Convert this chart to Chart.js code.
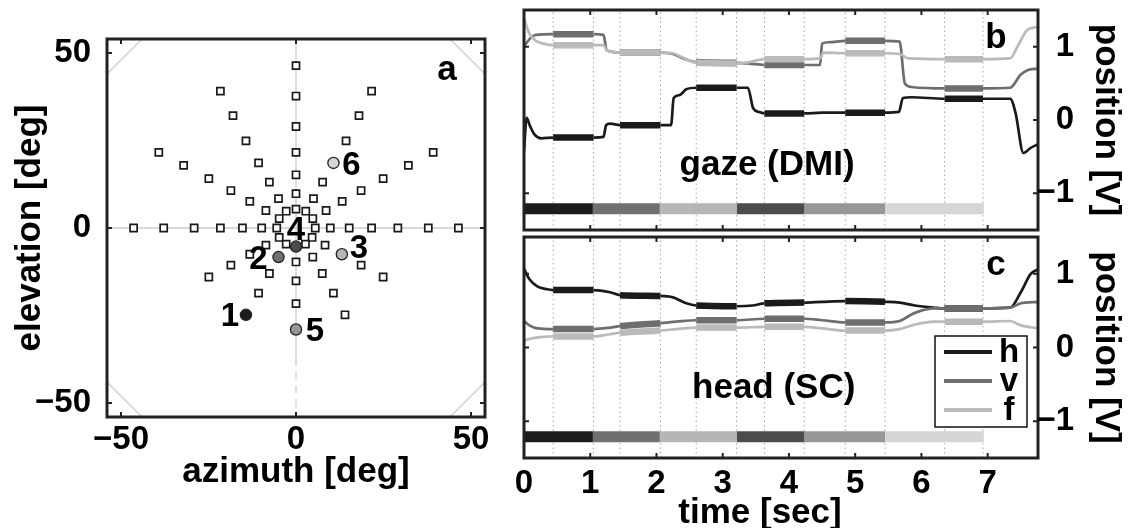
<!DOCTYPE html>
<html lang="en">
<head>
<meta charset="UTF-8" />
<title>Targets, gaze and head traces</title>
<script src="https://cdn.jsdelivr.net/npm/chart.js"></script>
<style>
  html, body { margin: 0; padding: 0; background: #fff; overflow: hidden; }
  body { width: 1137px; height: 528px; position: relative; }
  canvas { position: absolute; }
  #targets { left: 0; top: 0; }
  #gaze { left: 500px; top: 0; }
  #head { left: 500px; top: 233px; }
</style>
</head>
<body>
<canvas id="targets" width="500" height="528"></canvas>
<canvas id="gaze" width="637" height="233"></canvas>
<canvas id="head" width="637" height="300"></canvas>
<script>
// ---------- panel a: target grid (deg) ----------
const targetAz = [
  0, 0, 0, 0, 0, 0, 0,
  -5.5, -9.8, -15.3, -21.6, -29.1, -37.8, -46.4,
  5.5, 9.8, 15.2, 21.6, 29.1, 37.8, 46.4,
  0, 0, 0,
  -2.8, -5.0, -7.6, -10.7, -14.3, -18.0, -21.6,
  2.8, 5.0, 7.6, 14.3, 18.0, 21.6,
  4.8, 8.6, 13.2, 18.6, 24.9, 32.1, 39.2,
  -4.8, -8.6, -13.2, -18.6, -24.9, -32.1, -39.2,
  -4.8, -8.6, -13.2, -18.6, -24.9,
  4.6, 8.3, 18.6, 24.9,
  -2.8, -7.6, -10.7,
  2.7, 4.8, 7.5, 10.7, 14.0
];
const targetEl = [
  5.4, 9.8, 15.2, 21.6, 29.0, 37.7, 46.4,
  0, 0, 0, 0, 0, 0, 0,
  0, 0, 0, 0, 0, 0, 0,
  -9.7, -15.1, -21.6,
  4.8, 8.4, 13.1, 18.6, 24.9, 32.1, 39.1,
  4.8, 8.4, 13.1, 24.9, 32.1, 39.1,
  2.7, 5.0, 7.6, 10.7, 14.1, 17.9, 21.6,
  2.7, 5.0, 7.6, 10.7, 14.1, 17.9, 21.6,
  -2.7, -4.9, -7.5, -10.6, -14.0,
  -2.7, -4.9, -10.6, -14.0,
  -4.6, -13.0, -18.6,
  -4.6, -8.3, -13.0, -18.6, -24.8
];
const fixAz = [-14.3, -5.0, 13.1, 0, 0, 10.7];
const fixEl = [-24.8, -8.3, -7.5, -5.3, -29.0, 18.6];
const fixLabels = ['1', '2', '3', '4', '5', '6'];
const fixColors = ['#1c1c1c', '#707070', '#b6b6b6', '#4c4c4c', '#979797', '#d6d6d6'];
const degTicks = [-50, 0, 50];
const degLim = 54;
const cornerCut = 44;

// ---------- panels b, c: traces (time in s, position in V) ----------
const timeTicks = [0, 1, 2, 3, 4, 5, 6, 7];
const voltTicks = [-1, 0, 1];
const segStart = [0, 1.04, 2.05, 3.21, 4.23, 5.45];
const segEnd = [1.04, 2.05, 3.21, 4.23, 5.45, 6.94];
const winStart = [0.44, 1.45, 2.60, 3.63, 4.85, 6.35];
const winEnd = [1.05, 2.06, 3.21, 4.23, 5.45, 6.93];

const gazeH = [[0,-0.42],[0.04,0.03],[0.09,-0.08],[0.16,-0.2],[0.26,-0.25],[0.44,-0.24],[1.05,-0.24],[1.2,-0.23],[1.24,-0.07],[1.3,-0.05],[1.45,-0.07],[2.06,-0.07],[2.22,-0.07],[2.26,0.3],[2.35,0.34],[2.45,0.42],[2.6,0.44],[3.21,0.44],[3.38,0.44],[3.46,0.16],[3.55,0.11],[3.63,0.09],[4.23,0.09],[4.5,0.1],[4.85,0.1],[5.45,0.1],[5.66,0.11],[5.72,0.3],[5.85,0.31],[6.35,0.29],[6.93,0.29],[7.34,0.29],[7.42,0.1],[7.54,-0.45],[7.65,-0.38],[7.76,-0.33]];
const gazeV = [[0,1.0],[0.08,1.1],[0.18,1.16],[0.44,1.17],[1.05,1.17],[1.2,1.16],[1.25,0.95],[1.45,0.92],[2.06,0.92],[2.25,0.9],[2.4,0.84],[2.6,0.79],[3.21,0.78],[3.4,0.77],[3.63,0.75],[4.23,0.75],[4.47,0.75],[4.5,1.04],[4.6,1.06],[4.85,1.08],[5.45,1.08],[5.67,1.07],[5.75,0.5],[5.85,0.45],[6.35,0.43],[6.93,0.43],[7.34,0.44],[7.5,0.62],[7.6,0.68],[7.76,0.7]];
const gazeF = [[0,1.38],[0.08,1.18],[0.18,1.08],[0.3,1.04],[0.44,1.02],[1.05,1.02],[1.2,1.02],[1.25,0.95],[1.45,0.92],[2.06,0.92],[2.25,0.91],[2.4,0.85],[2.6,0.78],[3.21,0.77],[3.4,0.79],[3.63,0.83],[4.23,0.83],[4.47,0.84],[4.52,0.92],[4.85,0.91],[5.45,0.91],[5.67,0.9],[5.8,0.84],[6.35,0.83],[6.93,0.83],[7.34,0.84],[7.45,1.0],[7.6,1.23],[7.76,1.27]];

const headH = [[0,1.07],[0.08,0.93],[0.2,0.83],[0.35,0.79],[0.44,0.78],[1.05,0.78],[1.3,0.75],[1.45,0.71],[2.06,0.70],[2.25,0.68],[2.45,0.6],[2.6,0.57],[3.21,0.56],[3.45,0.57],[3.63,0.6],[4.23,0.61],[4.5,0.62],[4.85,0.63],[5.45,0.62],[5.67,0.61],[5.9,0.57],[6.2,0.54],[6.35,0.53],[6.93,0.53],[7.34,0.54],[7.5,0.75],[7.65,1.0],[7.76,1.06]];
const headV = [[0,0.36],[0.08,0.3],[0.2,0.26],[0.44,0.25],[1.05,0.25],[1.3,0.27],[1.45,0.29],[2.06,0.33],[2.3,0.35],[2.6,0.37],[3.21,0.37],[3.63,0.39],[4.23,0.39],[4.5,0.37],[4.85,0.34],[5.45,0.34],[5.67,0.36],[5.9,0.47],[6.2,0.53],[6.35,0.53],[6.93,0.53],[7.34,0.54],[7.5,0.6],[7.76,0.62]];
const headF = [[0,0.09],[0.1,0.12],[0.25,0.14],[0.44,0.15],[1.05,0.15],[1.3,0.18],[1.45,0.2],[2.06,0.23],[2.3,0.25],[2.6,0.27],[3.21,0.27],[3.63,0.28],[4.23,0.28],[4.5,0.26],[4.85,0.23],[5.45,0.23],[5.67,0.25],[5.9,0.31],[6.2,0.35],[6.35,0.35],[6.93,0.35],[7.34,0.36],[7.5,0.3],[7.76,0.26]];

const traceNames = ['h', 'v', 'f'];
const traceColors = ['#1a1a1a', '#6e6e6e', '#bababa'];

// ---------- common ----------
const FONT = '"Liberation Sans", Arial, Helvetica, sans-serif';
Chart.defaults.font.family = FONT;
Chart.defaults.color = '#000';
Chart.defaults.animation = false;
Chart.defaults.events = [];
Chart.defaults.plugins.legend.display = false;
Chart.defaults.plugins.tooltip.enabled = false;

const tickFont = { family: FONT, size: 33, weight: 'bold' };
const titleFont = { family: FONT, size: 35, weight: 'bold' };
const minusFmt = v => (v < 0 ? '\u2212' + Math.abs(v) : String(v));
const xy = (xs, ys) => xs.map((x, i) => ({ x: x, y: ys[i] }));
const pairs = arr => arr.map(p => ({ x: p[0], y: p[1] }));
const noPad = s => { s.paddingTop = 0; s.paddingBottom = 0; s.paddingLeft = 0; s.paddingRight = 0; };

function framePlugin(xTicks, yTicks) {
  return {
    id: 'frame',
    afterDatasetsDraw(chart) {
      const { ctx, chartArea: a, scales } = chart;
      ctx.save();
      ctx.strokeStyle = '#222';
      ctx.lineWidth = 2;
      ctx.beginPath();
      xTicks.forEach(v => {
        const px = scales.x.getPixelForValue(v);
        ctx.moveTo(px, a.bottom); ctx.lineTo(px, a.bottom - 5);
        ctx.moveTo(px, a.top); ctx.lineTo(px, a.top + 5);
      });
      yTicks.forEach(v => {
        const py = scales.y.getPixelForValue(v);
        ctx.moveTo(a.left, py); ctx.lineTo(a.left + 5, py);
        ctx.moveTo(a.right, py); ctx.lineTo(a.right - 5, py);
      });
      ctx.stroke();
      ctx.lineWidth = 3;
      ctx.strokeRect(a.left, a.top, a.right - a.left, a.bottom - a.top);
      ctx.restore();
    }
  };
}

function boldText(ctx, text, x, y, align, base, size) {
  ctx.font = 'bold ' + (size || 33) + 'px ' + FONT;
  ctx.fillStyle = '#000';
  ctx.textAlign = align || 'center';
  ctx.textBaseline = base || 'alphabetic';
  ctx.fillText(text, x, y);
}

// ---------- panel a ----------
const guideStyle = { type: 'line', showLine: true, pointRadius: 0, borderColor: '#cdcdcd', borderWidth: 1.3, fill: false };
const cornerSets = [[-1, 1], [1, 1], [1, -1], [-1, -1]].map(([sx, sy]) => Object.assign({}, guideStyle, {
  data: [{ x: sx * degLim, y: sy * cornerCut }, { x: sx * cornerCut, y: sy * degLim }],
  order: 5
}));
const labelDx = [-16, -20, 17, 0, 19, 18];
const labelDy = [11, 12, 4, -7, 11, 12];

new Chart(document.getElementById('targets'), {
  type: 'scatter',
  data: {
    datasets: [
      { data: xy(fixAz, fixEl), pointRadius: 5.6, pointBackgroundColor: fixColors, pointBorderColor: '#222', pointBorderWidth: 1.3, order: 0 },
      { data: xy(targetAz, targetEl), pointStyle: 'rect', pointRadius: 5, pointBackgroundColor: '#fff', pointBorderColor: '#1a1a1a', pointBorderWidth: 1.7, order: 1 },
      Object.assign({}, guideStyle, { data: [{ x: -degLim, y: 0 }, { x: degLim, y: 0 }], order: 4 }),
      Object.assign({}, guideStyle, { data: [{ x: 0, y: degLim }, { x: 0, y: -37 }], order: 4 }),
      Object.assign({}, guideStyle, { data: [{ x: 0, y: -37 }, { x: 0, y: -degLim }], borderDash: [8, 6], order: 4 })
    ].concat(cornerSets)
  },
  options: {
    responsive: false,
    layout: { padding: { top: 39, right: 15, left: 0, bottom: 0 } },
    scales: {
      x: {
        type: 'linear', min: -degLim, max: degLim,
        afterBuildTicks: s => { s.ticks = degTicks.map(v => ({ value: v })); },
        afterFit: s => { s.height = 111; noPad(s); },
        grid: { display: false }, border: { display: false },
        ticks: { font: tickFont, padding: -5, callback: minusFmt, maxRotation: 0, autoSkip: false },
        title: { display: true, text: 'azimuth [deg]', font: titleFont, padding: { top: 0, bottom: 35 } }
      },
      y: {
        type: 'linear', min: -degLim, max: degLim,
        afterBuildTicks: s => { s.ticks = degTicks.map(v => ({ value: v })); },
        afterFit: s => { s.width = 107; noPad(s); },
        grid: { display: false }, border: { display: false },
        ticks: { font: tickFont, padding: 8, callback: minusFmt, autoSkip: false },
        title: { display: true, text: 'elevation [deg]', font: titleFont, padding: { top: 9, bottom: 0 } }
      }
    }
  },
  plugins: [framePlugin(degTicks, degTicks), {
    id: 'targetLabels',
    afterDraw(chart) {
      const { ctx, chartArea: a, scales } = chart;
      ctx.save();
      fixLabels.forEach((t, i) => {
        const px = scales.x.getPixelForValue(fixAz[i]) + labelDx[i];
        const py = scales.y.getPixelForValue(fixEl[i]) + labelDy[i];
        boldText(ctx, t, px, py, 'center', 'alphabetic', 33);
      });
      boldText(ctx, 'a', a.right - 38, a.top + 41, 'center', 'alphabetic', 35);
      ctx.restore();
    }
  }]
});

// ---------- panels b, c ----------
const barLevel = -1.21;
const inWindow = t => winStart.some((s, i) => t >= s && t <= winEnd[i]);

function traceSets(series) {
  const sets = [];
  winStart.concat(winEnd).forEach(t => {
    sets.push({ data: [{ x: t, y: -1.5 }, { x: t, y: 1.5 }], borderColor: '#a8a8a8', borderWidth: 1, borderDash: [1.5, 3], pointRadius: 0, order: 20 });
  });
  segStart.forEach((s, i) => {
    sets.push({ data: [{ x: s, y: barLevel }, { x: segEnd[i], y: barLevel }], borderColor: fixColors[i], borderWidth: 11, borderCapStyle: 'butt', pointRadius: 0, order: 10 });
  });
  series.forEach((arr, k) => {
    sets.push({
      label: traceNames[k],
      data: pairs(arr),
      borderColor: traceColors[k],
      borderWidth: 2.7,
      pointRadius: 0,
      cubicInterpolationMode: 'monotone',
      order: 3 - k,
      segment: { borderWidth: c => (inWindow((c.p0.parsed.x + c.p1.parsed.x) / 2) ? 6.5 : 2.7) }
    });
  });
  return sets;
}

function voltAxis() {
  return {
    type: 'linear', position: 'right', min: -1.5, max: 1.5,
    afterBuildTicks: s => { s.ticks = voltTicks.map(v => ({ value: v })); },
    afterFit: s => { s.width = 99; noPad(s); },
    grid: { display: false }, border: { display: false },
    ticks: { display: false },
    title: { display: true, text: 'position [V]', font: titleFont, padding: { top: 10, bottom: 0 } }
  };
}

function voltLabels(chart) {
  const { chartArea: a, scales } = chart;
  voltTicks.forEach(v => {
    boldText(chart.ctx, minusFmt(v), a.right + 36, scales.y.getPixelForValue(v), 'right', 'middle', 33);
  });
}

new Chart(document.getElementById('gaze'), {
  type: 'line',
  data: { datasets: traceSets([gazeH, gazeV, gazeF]) },
  options: {
    responsive: false,
    layout: { padding: { left: 24, top: 10, right: 0, bottom: 3 } },
    scales: {
      x: { type: 'linear', min: 0, max: 7.76, display: false },
      y: voltAxis()
    }
  },
  plugins: [framePlugin(timeTicks, voltTicks), {
    id: 'gazeText',
    afterDraw(chart) {
      const { ctx, chartArea: a, scales } = chart;
      ctx.save();
      voltLabels(chart);
      boldText(ctx, 'gaze (DMI)', scales.x.getPixelForValue(3.67), scales.y.getPixelForValue(-0.75), 'center', 'alphabetic', 35);
      boldText(ctx, 'b', a.right - 42, a.top + 38, 'center', 'alphabetic', 35);
      ctx.restore();
    }
  }]
});

new Chart(document.getElementById('head'), {
  type: 'line',
  data: { datasets: traceSets([headH, headV, headF]) },
  options: {
    responsive: false,
    layout: { padding: { left: 24, top: 4, right: 0, bottom: 0 } },
    scales: {
      x: {
        type: 'linear', min: 0, max: 7.76,
        afterBuildTicks: s => { s.ticks = timeTicks.map(v => ({ value: v })); },
        afterFit: s => { s.height = 75; noPad(s); },
        grid: { display: false }, border: { display: false },
        ticks: { font: tickFont, padding: -2, maxRotation: 0, autoSkip: false }
      },
      y: voltAxis()
    }
  },
  plugins: [framePlugin(timeTicks, voltTicks), {
    id: 'headText',
    afterDraw(chart) {
      const { ctx, chartArea: a, scales } = chart;
      ctx.save();
      voltLabels(chart);
      boldText(ctx, 'head (SC)', scales.x.getPixelForValue(3.77), scales.y.getPixelForValue(-0.69), 'center', 'alphabetic', 35);
      boldText(ctx, 'c', a.right - 42, a.top + 38, 'center', 'alphabetic', 35);
      boldText(ctx, 'time [sec]', 260, 290, 'center', 'alphabetic', 35);
      // legend box
      const bx = a.right - 103, by = a.top + 99;
      ctx.fillStyle = '#fff';
      ctx.fillRect(bx, by, 92, 91);
      ctx.strokeStyle = '#111';
      ctx.lineWidth = 1.5;
      ctx.strokeRect(bx, by, 92, 91);
      const sets = chart.data.datasets.filter(d => traceNames.includes(d.label));
      sets.forEach((d, k) => {
        const ly = by + 16 + k * 29;
        ctx.strokeStyle = d.borderColor;
        ctx.lineWidth = 4;
        ctx.beginPath();
        ctx.moveTo(bx + 9, ly);
        ctx.lineTo(bx + 57, ly);
        ctx.stroke();
        boldText(ctx, d.label, bx + 74, ly + 1, 'center', 'middle', 33);
      });
      ctx.restore();
    }
  }]
});
</script>
</body>
</html>
